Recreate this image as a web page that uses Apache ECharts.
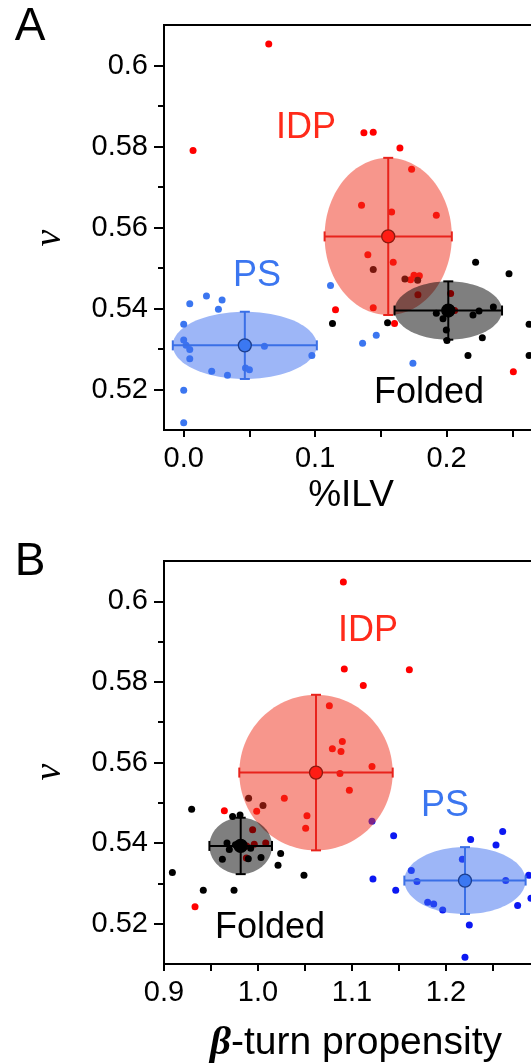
<!DOCTYPE html>
<html>
<head>
<meta charset="utf-8">
<script src="https://cdn.jsdelivr.net/npm/echarts@6/dist/echarts.min.js"></script>
<style>
  html, body { margin: 0; padding: 0; background: #fff; }
  #chart { width: 531px; height: 1064px; }
</style>
</head>
<body>
<div id="chart"></div>
<script>
// Panel A: %ILV vs nu
const idpA = [[0.0647,0.6053],[0.0071,0.5790],[0.1371,0.5834],[0.1442,0.5835],[0.1645,0.5796],[0.1734,0.5744],[0.1353,0.5655],[0.1582,0.5638],[0.1922,0.5630],[0.1401,0.5533],[0.1594,0.5514],[0.1752,0.5482],[0.1793,0.5481],[0.1726,0.5471],[0.1782,0.5434],[0.1442,0.5402],[0.1155,0.5397],[0.1604,0.5363],[0.2031,0.5437],[0.2061,0.5395],[0.2508,0.5244]];
const psA = [[0.1117,0.5457],[0.0173,0.5431],[0.0292,0.5421],[0.0046,0.5412],[0.0264,0.5398],[0.0000,0.5361],[0.0000,0.5322],[0.0018,0.5309],[0.0046,0.5299],[0.0046,0.5276],[0.0213,0.5245],[0.0333,0.5235],[0.0470,0.5253],[0.0500,0.5249],[0.0614,0.5307],[0.0975,0.5284],[0.0000,0.5198],[0.0000,0.5118],[0.1361,0.5314],[0.1465,0.5334],[0.1744,0.5265]];
const foldedA = [[0.2221,0.5514],[0.2475,0.5486],[0.1132,0.5363],[0.1551,0.5365],[0.1922,0.5388],[0.1973,0.5375],[0.1998,0.5389],[0.2201,0.5384],[0.2247,0.5394],[0.2356,0.5404],[0.1998,0.5347],[0.2003,0.5321],[0.2272,0.5328],[0.2163,0.5284],[0.2628,0.5361],[0.2628,0.5284],[0.1442,0.5496],[0.1683,0.5473],[0.1780,0.5470],[0.2010,0.5398],[0.2030,0.5392]];
// mean x, mean y, sd x, sd y
const idpStatA = [0.1556, 0.5578, 0.0484, 0.0194];
const psStatA = [0.0465, 0.5309, 0.0548, 0.0083];
const foldedStatA = [0.2013, 0.5395, 0.0409, 0.0072];

// Panel B: beta-turn propensity vs nu
const idpB = [[1.0908,0.6048],[1.0918,0.5832],[1.1610,0.5830],[1.1120,0.5791],[1.0759,0.5741],[1.0897,0.5652],[1.0791,0.5634],[1.0883,0.5627],[1.1213,0.5590],[1.0872,0.5573],[1.0972,0.5531],[1.0280,0.5511],[0.9986,0.5479],[1.0521,0.5468],[1.0507,0.5437],[0.9642,0.5480],[0.9330,0.5242],[0.9943,0.5433],[0.9879,0.5393],[0.9960,0.5397],[1.0082,0.5400],[0.9876,0.5363]];
const psB = [[1.2603,0.5429],[1.1443,0.5418],[1.2262,0.5409],[1.2532,0.5395],[1.2174,0.5360],[1.1631,0.5332],[1.1223,0.5311],[1.1691,0.5305],[1.2635,0.5307],[1.2880,0.5320],[1.1465,0.5283],[1.1805,0.5253],[1.1869,0.5249],[1.1965,0.5234],[1.2762,0.5245],[1.2904,0.5263],[1.2248,0.5197],[1.2202,0.5117],[1.1213,0.5454]];
const foldedB = [[0.9294,0.5484],[0.9089,0.5327],[0.9418,0.5283],[0.9745,0.5283],[0.9730,0.5466],[0.9809,0.5470],[0.9670,0.5400],[0.9695,0.5384],[0.9621,0.5360],[0.9897,0.5361],[1.0032,0.5364],[0.9922,0.5387],[1.0241,0.5374],[1.0213,0.5345],[1.0489,0.5320],[0.9760,0.5396],[0.9800,0.5393],[0.9900,0.5511],[1.0053,0.5493]];
const idpStatB = [1.0617, 0.5575, 0.0816, 0.0193];
const psStatB = [1.2202, 0.5307, 0.0645, 0.0083];
const foldedStatB = [0.9816, 0.5393, 0.0333, 0.0070];

// ticks
const yMajor = [0.52, 0.54, 0.56, 0.58, 0.6];
const yMinor = [0.53, 0.55, 0.57, 0.59];
const xTicksA = [0, 0.05, 0.1, 0.15, 0.2, 0.25, 0.3];
const xLabelsA = [0, 0.1, 0.2];
const xTicksB = [0.9, 0.95, 1.0, 1.05, 1.1, 1.15, 1.2, 1.25, 1.3];
const xLabelsB = [0.9, 1.0, 1.1, 1.2];

const FONT = '"Liberation Sans", Arial, sans-serif';
const RED = '#ff0000', BLUE = '#3b76f0', BLUE_B = '#0c18f2', BLACK = '#000000';

const chart = echarts.init(document.getElementById('chart'));

const xAxisOf = (gi, min, max, ticks, labels) => ({
    gridIndex: gi, type: 'value', min, max, position: 'bottom',
    axisLine: { onZero: false, lineStyle: { color: '#000', width: 2 } },
    axisTick: { customValues: ticks, length: 7, lineStyle: { color: '#000', width: 2 } },
    axisLabel: { customValues: labels, formatter: v => v.toFixed(1), color: '#000', fontSize: 29, fontFamily: FONT, margin: 14 },
    splitLine: { show: false }
});

const yAxisOf = (gi) => ([{
    gridIndex: gi, type: 'value', min: 0.51, max: 0.61, position: 'left',
    axisLine: { onZero: false, lineStyle: { color: '#000', width: 2 } },
    axisTick: { customValues: yMajor, length: 10, lineStyle: { color: '#000', width: 2 } },
    axisLabel: { customValues: yMajor, formatter: v => String(+v.toFixed(2)), color: '#000', fontSize: 29, fontFamily: FONT, margin: 16 },
    splitLine: { show: false }
}, {
    gridIndex: gi, type: 'value', min: 0.51, max: 0.61, position: 'left', offset: 0,
    axisLine: { show: false, onZero: false },
    axisTick: { customValues: yMinor, length: 6, lineStyle: { color: '#000', width: 2 } },
    axisLabel: { show: false },
    splitLine: { show: false }
}]);

const ellipseItem = (params, api) => {
    const c = api.coord([api.value(0), api.value(1)]);
    const s = api.size([api.value(2), api.value(3)]);
    const pts = [];
    for (let i = 0; i < 120; i++) {
        const t = i / 120 * Math.PI * 2;
        pts.push([c[0] + s[0] * Math.cos(t), c[1] + s[1] * Math.sin(t)]);
    }
    return { type: 'polygon', shape: { points: pts }, style: { fill: api.visual('color') } };
};

const errorItem = (params, api) => {
    const x = api.value(0), y = api.value(1), ex = api.value(2), ey = api.value(3);
    const l = api.coord([x - ex, y]), r = api.coord([x + ex, y]);
    const t = api.coord([x, y + ey]), b = api.coord([x, y - ey]);
    const cap = 5;
    const st = { stroke: api.visual('color'), lineWidth: 2 };
    const seg = (x1, y1, x2, y2) => ({ type: 'line', shape: { x1, y1, x2, y2 }, style: st });
    return {
        type: 'group',
        children: [
            seg(l[0], l[1], r[0], r[1]),
            seg(t[0], t[1], b[0], b[1]),
            seg(l[0], l[1] - cap, l[0], l[1] + cap),
            seg(r[0], r[1] - cap, r[0], r[1] + cap),
            seg(t[0] - cap, t[1], t[0] + cap, t[1]),
            seg(b[0] - cap, b[1], b[0] + cap, b[1])
        ]
    };
};

// one group = points + ellipse + error cross + mean marker
const groupSeries = (xi, yi, pts, stat, ptColor, fill, barColor, meanColor, meanBorder) => ([
    { type: 'scatter', xAxisIndex: xi, yAxisIndex: yi, data: pts, symbolSize: 7, z: 2,
      itemStyle: { color: ptColor, opacity: 1 }, silent: true },
    { type: 'custom', xAxisIndex: xi, yAxisIndex: yi, data: [stat], renderItem: ellipseItem, z: 3,
      itemStyle: { color: fill }, silent: true },
    { type: 'custom', xAxisIndex: xi, yAxisIndex: yi, data: [stat], renderItem: errorItem, z: 4,
      itemStyle: { color: barColor }, silent: true },
    { type: 'scatter', xAxisIndex: xi, yAxisIndex: yi, data: [stat.slice(0, 2)], symbolSize: 13, z: 5,
      itemStyle: { color: meanColor, borderColor: meanBorder, borderWidth: 1.3, opacity: 1 }, silent: true }
]);

const label = (text, x, y, fill, size) => ({
    type: 'text', x, y, z: 10,
    style: { text, fill, fontSize: size, fontFamily: FONT, align: 'center', verticalAlign: 'middle' }
});

chart.setOption({
    animation: false,
    backgroundColor: '#fff',
    grid: [
        { left: 164, top: 25, width: 414, height: 405, outerBoundsMode: 'none', containLabel: false,
          show: true, borderColor: '#000', borderWidth: 2, backgroundColor: 'transparent' },
        { left: 164, top: 561, width: 376, height: 403, outerBoundsMode: 'none', containLabel: false,
          show: true, borderColor: '#000', borderWidth: 2, backgroundColor: 'transparent' }
    ],
    xAxis: [
        xAxisOf(0, -0.015, 0.3, xTicksA, xLabelsA),
        xAxisOf(1, 0.9, 1.3, xTicksB, xLabelsB)
    ],
    yAxis: [...yAxisOf(0), ...yAxisOf(1)],
    series: [
        ...groupSeries(0, 0, psA, psStatA, BLUE, 'rgba(60,110,240,0.5)', '#3a6fe6', '#3b78f2', '#1d3f8f'),
        ...groupSeries(0, 0, idpA, idpStatA, RED, 'rgba(240,45,25,0.5)', '#e8231c', '#ff1c14', '#8c1a10'),
        ...groupSeries(0, 0, foldedA, foldedStatA, BLACK, 'rgba(0,0,0,0.5)', '#000', '#000', '#000'),
        ...groupSeries(1, 2, psB, psStatB, BLUE_B, 'rgba(60,110,240,0.5)', '#3a6fe6', '#3b78f2', '#1d3f8f'),
        ...groupSeries(1, 2, idpB, idpStatB, RED, 'rgba(240,45,25,0.5)', '#e8231c', '#ff1c14', '#8c1a10'),
        ...groupSeries(1, 2, foldedB, foldedStatB, BLACK, 'rgba(0,0,0,0.5)', '#000', '#000', '#000')
    ],
    graphic: [
        label('A', 30, 27, '#000', 46),
        label('B', 30, 562, '#000', 46),
        label('IDP', 306, 128, '#ff2a1a', 36),
        label('PS', 257, 276, BLUE, 36),
        label('Folded', 429, 393, '#000', 36),
        label('IDP', 368, 631, '#ff2a1a', 36),
        label('PS', 445, 806, BLUE, 36),
        label('Folded', 270, 928, '#000', 36),
        label('%ILV', 351, 496, '#000', 37),
        {
            type: 'text', x: 356, y: 1043, z: 10,
            style: {
                text: '{b|β}-turn propensity', fill: '#000', fontSize: 39, fontFamily: FONT,
                align: 'center', verticalAlign: 'middle',
                rich: { b: { fontFamily: '"Liberation Serif", serif', fontWeight: 'bold', fontStyle: 'italic', fontSize: 41, fill: '#000' } }
            }
        },
        {
            type: 'text', x: 50, y: 238, rotation: Math.PI / 2, z: 10,
            style: { text: 'ν', fill: '#000', fontSize: 38, fontFamily: '"Liberation Serif", serif', fontStyle: 'italic', align: 'center', verticalAlign: 'middle' }
        },
        {
            type: 'text', x: 50, y: 772, rotation: Math.PI / 2, z: 10,
            style: { text: 'ν', fill: '#000', fontSize: 38, fontFamily: '"Liberation Serif", serif', fontStyle: 'italic', align: 'center', verticalAlign: 'middle' }
        }
    ]
});
</script>
</body>
</html>
